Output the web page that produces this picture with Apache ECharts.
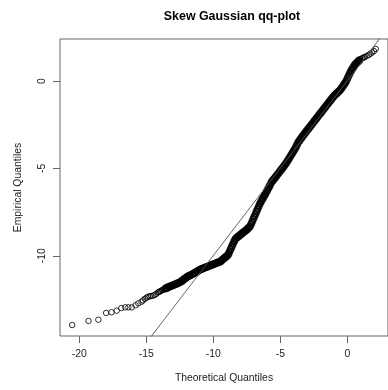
<!DOCTYPE html>
<html>
<head>
<meta charset="utf-8">
<script src="https://cdn.jsdelivr.net/npm/echarts@6/dist/echarts.min.js"></script>
<style>
html,body{margin:0;padding:0;background:#fff;}
#chart{width:388px;height:390px;}
</style>
</head>
<body>
<div id="chart"></div>
<script>
// [theoretical quantile, empirical quantile] pairs
var lowerTail = [
  [-20.53,-13.96],[-19.31,-13.73],[-18.58,-13.66],[-18.00,-13.27],[-17.60,-13.23],[-17.21,-13.14],
  [-16.87,-12.99],[-16.58,-12.95],[-16.34,-12.95],[-16.09,-12.95],[-15.80,-12.83],[-15.60,-12.72],
  [-15.36,-12.63],[-15.25,-12.55],[-15.11,-12.46],[-14.98,-12.40],[-14.87,-12.34],[-14.75,-12.32],
  [-14.63,-12.30],[-14.50,-12.28],[-14.38,-12.24],[-14.26,-12.18],[-14.14,-12.10],
  [-14.06,-12.07],[-13.98,-12.04],[-13.90,-12.00],[-13.82,-11.97],[-13.74,-11.94],[-13.66,-11.91]
];
var mainBand = [
  [-13.58,-11.88],[-13.50,-11.85],[-13.42,-11.81],[-13.34,-11.79],[-13.26,-11.76],[-13.18,-11.74],
  [-13.10,-11.71],[-13.02,-11.69],[-12.94,-11.66],[-12.86,-11.64],[-12.78,-11.61],[-12.70,-11.58],
  [-12.62,-11.56],[-12.54,-11.53],[-12.46,-11.50],[-12.38,-11.45],[-12.30,-11.41],[-12.22,-11.36],
  [-12.14,-11.31],[-12.06,-11.27],[-11.98,-11.22],[-11.90,-11.18],[-11.82,-11.15],[-11.74,-11.12],
  [-11.66,-11.09],[-11.58,-11.06],[-11.50,-11.03],[-11.42,-10.99],[-11.34,-10.95],[-11.26,-10.92],
  [-11.18,-10.88],[-11.10,-10.84],[-11.02,-10.80],[-10.94,-10.77],[-10.86,-10.75],[-10.78,-10.72],
  [-10.70,-10.70],[-10.62,-10.67],[-10.54,-10.65],[-10.46,-10.63],[-10.38,-10.60],[-10.30,-10.58],
  [-10.22,-10.55],[-10.14,-10.53],[-10.06,-10.50],[-9.98,-10.48],[-9.90,-10.46],[-9.82,-10.43],
  [-9.74,-10.41],[-9.66,-10.38],[-9.58,-10.36],[-9.50,-10.34],[-9.42,-10.29],[-9.34,-10.23],
  [-9.26,-10.18],[-9.18,-10.13],[-9.10,-10.08],[-9.02,-10.03],[-8.94,-9.97],[-8.86,-9.88],
  [-8.78,-9.74],[-8.70,-9.60],[-8.62,-9.46],[-8.54,-9.33],[-8.46,-9.19],[-8.38,-9.07],
  [-8.30,-8.98],[-8.22,-8.94],[-8.14,-8.89],[-8.06,-8.84],[-7.98,-8.79],[-7.90,-8.74],
  [-7.82,-8.69],[-7.74,-8.64],[-7.66,-8.60],[-7.58,-8.55],[-7.50,-8.49],[-7.42,-8.43],
  [-7.34,-8.37],[-7.26,-8.31],[-7.18,-8.18],[-7.10,-8.04],[-7.02,-7.89],[-6.94,-7.75],
  [-6.86,-7.61],[-6.78,-7.46],[-6.70,-7.32],[-6.62,-7.18],[-6.54,-7.04],[-6.46,-6.92],
  [-6.38,-6.81],[-6.30,-6.70],[-6.22,-6.59],[-6.14,-6.49],[-6.06,-6.38],[-5.98,-6.26],
  [-5.90,-6.14],[-5.82,-6.03],[-5.74,-5.91],[-5.66,-5.78],[-5.58,-5.70],[-5.50,-5.63],
  [-5.42,-5.55],[-5.34,-5.47],[-5.26,-5.39],[-5.18,-5.31],[-5.10,-5.23],[-5.02,-5.15],
  [-4.94,-5.07],[-4.86,-4.99],[-4.78,-4.91],[-4.70,-4.83],[-4.62,-4.75],[-4.54,-4.66],
  [-4.46,-4.56],[-4.38,-4.46],[-4.30,-4.36],[-4.22,-4.26],[-4.14,-4.16],[-4.06,-4.06],
  [-3.98,-3.96],[-3.90,-3.86],[-3.82,-3.74],[-3.74,-3.61],[-3.66,-3.49],[-3.58,-3.41],
  [-3.50,-3.32],[-3.42,-3.24],[-3.34,-3.15],[-3.26,-3.07],[-3.18,-2.99],[-3.10,-2.91],
  [-3.02,-2.83],[-2.94,-2.75],[-2.86,-2.68],[-2.78,-2.60],[-2.70,-2.52],[-2.62,-2.44],
  [-2.54,-2.36],[-2.46,-2.28],[-2.38,-2.20],[-2.30,-2.12],[-2.22,-2.04],[-2.14,-1.96],
  [-2.06,-1.88],[-1.98,-1.81],[-1.90,-1.73],[-1.82,-1.65],[-1.74,-1.57],[-1.66,-1.49],
  [-1.58,-1.41],[-1.50,-1.33],[-1.42,-1.26],[-1.34,-1.18],[-1.26,-1.10],[-1.18,-1.02],
  [-1.10,-0.94],[-1.02,-0.87],[-0.94,-0.80],[-0.86,-0.74],[-0.78,-0.69],[-0.70,-0.63],
  [-0.62,-0.57],[-0.54,-0.51],[-0.46,-0.43],[-0.38,-0.34],[-0.30,-0.25],[-0.22,-0.16],
  [-0.14,-0.07],[-0.06,0.05],[0.02,0.19],[0.10,0.32],[0.18,0.45],[0.26,0.57],
  [0.34,0.67],[0.42,0.77],[0.50,0.87],[0.58,0.96],[0.66,1.02],[0.74,1.08],
  [0.82,1.14],[0.90,1.20]
];
var upperTail = [
  [0.98,1.25],[1.06,1.29],[1.14,1.32],
  [1.22,1.35],[1.30,1.38],[1.45,1.44],[1.60,1.50],[1.72,1.57],[1.85,1.64],[1.98,1.72],[2.12,1.84]
];
// Reference (qq) line end points
var lineX = [-16, 4];
var lineY = [-15.98, 4.02];
// Tick values
var xTicks = [-20, -15, -10, -5, 0];
var yTicks = [-10, -5, 0];

var tailPts = lowerTail.concat(upperTail);
var linePts = lineX.map(function (x, i) { return [x, lineY[i]]; });

var chart = echarts.init(document.getElementById('chart'), null, {renderer: 'canvas'});
var font = 'Liberation Sans, Arial, sans-serif';
chart.setOption({
  animation: false,
  backgroundColor: '#ffffff',
  title: {
    text: 'Skew Gaussian qq-plot',
    left: 227, top: 6, textAlign: 'center',
    textStyle: {fontFamily: font, fontSize: 12.4, fontWeight: 'bold', color: '#000'}
  },
  grid: {
    left: 60, top: 39, width: 334.5, height: 297,
    show: true, borderColor: '#666', borderWidth: 1, backgroundColor: 'transparent'
  },
  xAxis: {
    type: 'value', min: -21.44, max: 3.03,
    name: 'Theoretical Quantiles', nameLocation: 'middle', nameGap: 37,
    nameTextStyle: {fontFamily: font, fontSize: 10.4, color: '#222'},
    axisLine: {show: false, onZero: false},
    splitLine: {show: false},
    axisTick: {show: true, customValues: xTicks, length: 7, inside: false, lineStyle: {color: '#666', width: 1}},
    axisLabel: {customValues: xTicks, margin: 13, fontFamily: font, fontSize: 10.4, color: '#222'}
  },
  yAxis: {
    type: 'value', min: -14.59, max: 2.41,
    name: 'Empirical Quantiles', nameLocation: 'middle', nameGap: 37, nameRotate: 90,
    nameTextStyle: {fontFamily: font, fontSize: 10.4, color: '#222'},
    axisLine: {show: false, onZero: false},
    splitLine: {show: false},
    axisTick: {show: true, customValues: yTicks, length: 7, inside: false, lineStyle: {color: '#666', width: 1}},
    axisLabel: {customValues: yTicks, rotate: 90, margin: 13, fontFamily: font, fontSize: 10.4, color: '#222'}
  },
  series: [
    {
      type: 'scatter',
      data: tailPts,
      symbol: 'circle',
      symbolSize: 5.5,
      itemStyle: {color: 'rgba(0,0,0,0)', borderColor: '#000', borderWidth: 1},
      emphasis: {disabled: true},
      silent: true
    },
    {
      type: 'scatter',
      data: mainBand,
      symbol: 'circle',
      symbolSize: 5.5,
      itemStyle: {color: 'rgba(0,0,0,0)', borderColor: '#000', borderWidth: 2.2},
      emphasis: {disabled: true},
      silent: true
    },
    {
      type: 'line',
      data: linePts,
      showSymbol: false,
      symbol: 'none',
      clip: true,
      lineStyle: {color: '#555', width: 0.9},
      silent: true
    }
  ]
});
</script>
</body>
</html>
